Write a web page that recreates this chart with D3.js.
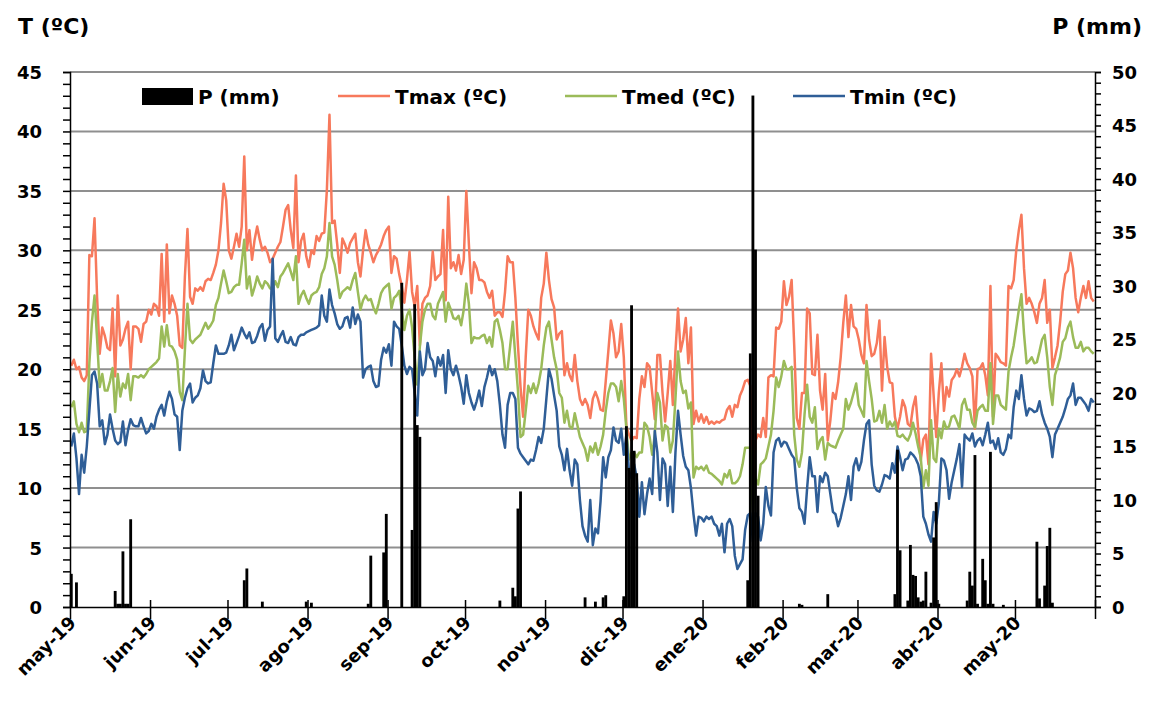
<!DOCTYPE html>
<html><head><meta charset="utf-8">
<script src="https://cdn.jsdelivr.net/npm/d3@7"></script>
<style>
body{margin:0;background:#fff}
text{font-family:"DejaVu Sans",sans-serif;font-weight:bold;fill:#000}
</style></head><body>
<svg id="chart" width="1158" height="707"></svg>
<script>
// Daily series, 1 May 2019 – 31 May 2020
const startDate = new Date(2019, 4, 1);
const endDate = new Date(2020, 5, 1);

const tmax = [
20.3,20.8,20.0,20.2,19.3,19.0,19.5,29.6,29.5,32.7,
26.0,21.3,23.5,22.8,21.8,21.6,25.1,19.4,26.2,22.0,
22.5,23.4,24.0,20.0,23.6,23.6,23.4,22.3,23.8,24.0,
25.0,24.6,25.5,25.3,24.5,29.7,24.0,30.5,24.7,26.2,
25.5,24.5,22.0,21.8,27.8,31.8,26.1,25.5,26.8,26.6,
26.9,26.6,27.4,27.6,27.5,28.1,28.8,30.0,32.3,35.6,
34.2,30.0,29.3,30.3,31.4,30.3,32.0,37.9,30.0,31.7,
29.2,30.9,32.0,30.9,30.0,30.3,29.8,29.0,29.3,29.8,
30.3,30.7,32.0,33.4,33.8,31.7,30.2,36.3,29.0,30.8,
31.4,29.5,28.6,30.0,29.7,31.2,30.8,31.4,31.5,35.1,
41.4,32.3,32.5,30.5,28.1,31.0,30.5,29.8,30.6,31.0,
31.4,29.0,27.8,30.0,31.7,30.5,29.8,29.0,29.6,30.0,
30.5,31.2,31.7,32.0,28.1,29.5,29.3,28.0,27.0,25.6,
27.5,29.9,26.5,25.3,27.0,22.0,25.5,26.0,26.2,27.0,
29.9,27.5,27.8,28.0,31.7,25.8,34.5,28.5,29.0,28.3,
29.6,28.0,29.2,35.0,30.5,26.4,29.0,28.5,27.5,27.5,
27.3,26.5,26.0,26.6,24.5,24.8,24.8,24.4,26.5,29.5,
29.0,29.0,26.0,22.0,18.5,16.0,21.0,25.0,24.5,23.6,
23.0,22.5,26.0,27.2,29.8,27.5,25.9,25.2,22.5,23.0,
23.2,19.5,20.5,19.5,19.0,21.2,19.0,17.5,17.0,17.5,
17.0,15.9,17.5,18.1,17.5,16.6,16.5,19.0,21.5,24.1,
23.0,21.0,21.5,23.8,21.0,15.2,14.5,14.0,14.3,14.2,
17.5,19.4,18.5,20.5,20.2,18.0,15.8,21.2,21.2,18.0,
15.6,18.0,20.7,17.0,21.5,25.1,21.5,22.5,24.3,20.5,
23.5,15.4,16.5,15.6,16.2,15.5,16.0,15.4,15.6,15.4,
15.6,15.5,15.7,15.8,16.6,16.9,16.0,17.0,16.8,17.8,
18.3,19.0,19.1,18.6,9.6,14.0,14.5,14.3,15.9,14.3,
19.3,19.5,19.4,23.5,23.4,24.0,27.4,25.4,26.1,27.5,
22.0,15.9,15.0,18.0,18.0,25.1,24.7,19.6,19.5,22.9,
18.2,16.6,19.6,14.0,15.7,18.0,17.5,18.9,21.0,23.9,
26.2,22.7,25.4,23.6,23.4,22.5,21.2,20.5,25.4,22.5,
21.1,21.3,22.2,24.1,18.2,22.7,20.2,18.9,18.8,16.0,
15.0,16.0,17.4,16.8,15.4,15.2,16.8,17.7,15.0,12.3,
14.1,14.5,12.0,21.3,17.8,14.3,18.0,20.5,16.5,18.5,
17.7,19.1,19.4,20.0,19.4,20.2,21.3,20.5,20.1,19.4,
15.0,20.0,20.1,20.5,19.5,17.8,27.0,16.0,21.3,21.0,
20.6,20.5,20.3,27.0,26.8,27.5,30.0,31.7,33.0,28.5,
25.5,26.0,25.5,24.8,23.9,25.5,26.0,27.5,23.9,25.0,
20.1,21.0,22.0,24.0,26.5,28.0,28.3,29.8,28.5,26.0,
24.8,26.0,27.0,26.0,27.4,26.0,25.7];

const tmed = [
16.8,17.3,15.4,14.7,15.5,14.7,14.8,20.5,24.0,26.2,
22.5,18.5,19.6,18.2,18.2,19.0,20.1,16.4,19.6,17.7,
18.8,18.4,19.6,17.4,19.4,19.4,19.3,19.5,19.3,19.6,
20.0,20.2,20.4,20.6,20.9,23.6,21.9,23.7,22.0,21.9,
21.5,20.8,18.1,17.4,21.6,25.5,22.5,22.2,22.5,22.7,
22.9,23.4,23.9,23.4,23.7,24.1,25.4,26.0,27.2,28.3,
27.4,26.4,26.5,26.9,27.1,27.1,28.9,30.9,26.8,27.8,
26.2,26.9,27.8,27.2,26.8,27.4,27.2,26.8,26.7,27.4,
26.9,27.8,28.1,28.5,28.9,28.2,27.5,29.5,25.5,26.2,
26.6,26.0,25.5,26.2,26.4,26.5,26.9,28.0,28.5,29.5,
32.3,29.5,28.8,27.5,26.0,26.5,26.7,26.9,26.7,27.5,
28.1,26.5,25.0,25.8,26.2,25.8,25.9,25.2,24.7,25.5,
26.4,26.8,27.0,27.2,25.1,26.0,26.2,26.6,25.0,23.3,
24.5,25.0,23.5,21.0,18.7,21.9,24.0,25.0,25.5,25.5,
24.5,24.2,25.5,26.0,26.5,24.0,25.6,25.0,24.3,24.2,
24.5,23.7,25.0,27.2,25.5,22.2,22.7,22.6,22.6,22.8,
22.9,22.2,22.7,21.9,24.0,24.2,23.3,22.2,20.0,20.0,
22.0,24.0,21.0,18.2,14.3,14.5,16.5,18.6,18.0,18.8,
18.0,18.8,20.0,22.0,23.5,24.0,22.5,21.0,20.0,18.0,
17.6,15.5,16.5,15.2,15.0,16.3,15.3,14.3,13.8,13.3,
12.3,13.5,13.0,13.8,12.8,13.5,14.5,16.5,18.0,18.8,
18.8,18.5,17.3,19.0,17.5,15.0,12.4,13.0,13.0,12.6,
13.0,13.0,15.5,15.2,14.3,12.8,14.5,18.0,17.2,14.0,
15.3,15.1,13.0,14.0,17.5,21.5,19.0,18.0,18.2,16.7,
17.2,10.9,11.8,11.6,11.8,11.5,11.9,11.3,11.2,11.0,
10.8,10.6,10.3,11.2,10.9,11.5,10.4,10.4,10.6,11.0,
12.0,13.4,13.4,13.4,8.0,10.8,10.3,12.0,12.2,12.5,
13.5,14.5,16.5,19.3,18.5,19.4,20.7,20.0,20.0,20.2,
14.5,12.4,11.8,13.0,16.2,18.7,16.0,15.5,16.8,13.3,
14.0,14.3,12.4,13.8,13.6,13.5,13.4,14.0,14.5,15.0,
17.5,16.6,17.2,18.0,18.8,17.0,16.5,16.0,20.7,19.0,
17.5,15.6,15.7,16.5,15.5,17.0,15.0,15.6,15.2,15.6,
14.4,14.3,14.5,14.2,14.0,14.5,15.5,14.6,13.5,12.6,
10.0,11.5,10.2,15.7,12.5,12.2,15.0,14.2,15.6,15.0,
15.2,16.0,16.1,15.6,15.0,17.0,17.5,16.6,16.6,15.5,
15.1,16.5,16.8,17.0,16.5,16.5,20.5,15.4,17.8,17.8,
17.0,16.8,16.6,19.8,21.0,22.0,23.5,25.0,26.3,23.0,
20.5,20.7,21.0,20.5,20.6,21.5,22.5,22.9,21.0,18.5,
17.0,19.5,20.2,21.0,22.3,22.6,23.5,24.0,22.7,21.8,
21.8,22.3,21.5,21.8,21.8,21.5,21.3];

const tmin = [
13.5,14.6,12.5,9.5,12.8,11.3,13.5,16.5,19.5,19.8,
18.8,15.2,15.7,13.7,14.5,16.2,15.0,14.0,13.7,13.9,
15.6,13.6,14.9,15.8,15.3,15.2,15.2,15.9,15.2,14.6,
14.8,15.4,15.0,16.0,16.6,17.0,16.1,17.3,18.1,17.5,
16.2,16.0,13.2,16.5,17.6,18.4,18.8,17.2,17.6,17.8,
18.4,19.9,19.0,18.8,18.9,20.5,22.0,21.3,21.3,21.3,
21.4,22.0,22.9,21.6,22.2,22.8,23.5,23.0,22.6,23.1,
22.2,22.3,22.8,23.5,23.8,22.4,23.3,23.6,29.3,22.6,
22.3,22.8,23.2,22.3,22.2,22.7,22.1,22.0,22.7,22.9,
22.9,23.1,23.2,23.3,23.4,23.5,23.7,26.2,24.5,24.0,
26.7,25.4,24.7,23.8,23.4,23.6,24.3,24.4,23.5,25.2,
23.8,24.6,24.0,19.3,20.0,20.2,20.3,19.0,18.5,18.6,
20.8,21.8,21.4,22.1,20.3,24.0,23.6,23.4,22.0,20.3,
19.6,20.2,20.0,18.0,16.1,21.5,19.5,20.0,22.2,21.0,
20.7,19.4,21.0,20.3,21.2,18.0,21.6,20.0,19.5,20.3,
19.5,18.5,17.1,19.5,18.0,17.2,16.6,17.3,18.2,16.9,
18.5,19.3,20.3,19.5,20.0,19.0,17.0,14.5,13.4,17.0,
18.0,18.0,17.5,13.4,12.9,12.6,12.3,12.0,12.4,12.3,
13.2,14.3,13.8,15.0,17.5,20.0,19.2,17.8,16.5,13.5,
12.8,11.5,13.3,11.5,10.2,12.4,12.0,9.0,6.8,6.0,
5.5,9.0,5.2,6.6,6.2,8.9,12.6,10.9,12.6,13.2,
15.1,14.0,13.8,15.0,12.8,14.5,11.5,10.8,12.0,10.9,
7.6,10.5,7.8,9.5,10.8,9.5,14.8,13.0,9.0,12.5,
12.0,8.5,11.8,8.0,13.0,16.5,14.5,12.7,11.8,11.5,
10.0,7.8,6.0,7.6,7.5,7.2,7.6,7.4,7.6,7.0,
6.8,6.0,7.0,4.6,7.0,7.4,6.8,4.3,3.2,3.6,
4.0,6.5,7.7,7.9,5.5,7.9,7.6,5.6,7.0,10.1,
8.5,7.7,13.0,14.0,14.2,13.5,13.9,13.8,13.3,12.8,
12.5,10.0,8.3,8.0,7.0,10.0,12.6,11.0,11.0,8.0,
11.0,10.5,11.3,11.0,9.5,8.0,7.8,6.8,7.5,8.5,
9.5,11.0,9.0,11.8,12.5,11.5,12.2,14.0,15.4,15.7,
12.0,10.2,9.8,9.7,10.3,11.1,11.0,10.8,12.1,11.3,
13.5,12.6,11.5,12.4,12.5,13.0,12.8,12.5,12.0,11.0,
7.6,7.0,6.1,5.5,8.0,7.0,8.7,12.5,12.3,11.5,
9.1,10.5,11.5,12.5,13.7,10.1,14.5,14.2,14.0,14.6,
13.5,14.0,14.2,13.6,14.5,15.5,13.8,14.0,13.3,14.2,
13.0,12.8,13.3,14.5,14.2,16.8,18.2,17.5,19.5,17.5,
16.1,16.7,16.6,16.4,16.5,17.3,16.2,15.5,15.0,14.3,
12.6,14.5,15.0,15.5,16.0,16.7,17.5,17.8,18.8,17.0,
17.6,17.6,17.3,17.0,16.5,17.5,17.2];

// Rainy days (day index from 1 May 2019) and rainfall in mm
const rainDay = [0,2,17,18,19,20,21,22,23,67,68,74,91,93,115,116,121,122,128,132,133,134,135,
  166,171,172,173,174,199,203,206,207,214,215,216,217,218,219,262,263,264,265,266,282,283,293,
  319,320,321,324,325,326,327,328,329,330,331,333,334,335,336,347,348,349,350,351,353,354,355,356,357,
  361,374,375,377,378,379,380];
const rainMm = [3.1,2.3,1.5,0.3,0.3,5.2,0.3,0.3,8.2,2.5,3.6,0.5,0.5,0.4,0.3,4.8,5.1,8.7,30.3,7.2,28.3,17.0,15.9,
  0.6,1.8,1.0,9.2,10.8,0.9,0.5,0.9,1.1,1.0,16.9,13.0,28.2,14.6,12.5,2.5,23.7,47.8,33.4,10.4,0.3,0.2,1.2,
  1.2,14.7,5.3,0.6,5.8,3.0,2.9,0.9,0.5,0.6,3.3,0.4,6.5,9.8,0.3,0.6,3.3,2.0,14.2,0.3,4.5,2.5,0.3,14.5,0.3,
  0.2,6.1,0.8,2.0,5.7,7.4,0.4];

const tempTicks = d3.range(0, 46, 5);
const rainTicks = d3.range(0, 51, 5);
const monthNames = ["ene","feb","mar","abr","may","jun","jul","ago","sep","oct","nov","dic"];

const seriesInfo = [
  {name: "Tmax (ºC)", values: tmax, color: "#F7795C"},
  {name: "Tmed (ºC)", values: tmed, color: "#9BBB59"},
  {name: "Tmin (ºC)", values: tmin, color: "#2F5E97"}
];

const plot = {left: 70, right: 1095, top: 72, bottom: 607};
const svg = d3.select("#chart");

const x = d3.scaleTime().domain([startDate, endDate]).range([plot.left, plot.right]);
const yT = d3.scaleLinear().domain([0, 45]).range([plot.bottom, plot.top]);
const yP = d3.scaleLinear().domain([0, 50]).range([plot.bottom, plot.top]);
const dayAt = i => d3.timeDay.offset(startDate, i);
const dayMid = i => x(d3.timeHour.offset(dayAt(i), 12));
const slot = x(dayAt(1)) - x(dayAt(0));

// horizontal gridlines
svg.append("g").selectAll("line").data(tempTicks.filter(t => t > 0)).join("line")
  .attr("x1", plot.left).attr("x2", plot.right)
  .attr("y1", d => yT(d)).attr("y2", d => yT(d))
  .attr("stroke", "#8f8f8f").attr("stroke-width", 2);

// temperature lines
const line = d3.line().x((d, i) => dayMid(i)).y(d => yT(d));
svg.append("g").selectAll("path").data(seriesInfo).join("path")
  .attr("d", s => line(s.values))
  .attr("fill", "none").attr("stroke", s => s.color)
  .attr("stroke-width", 2.5).attr("stroke-linejoin", "round");

// rainfall bars
const rain = rainDay.map((d, i) => ({d, v: rainMm[i]}));
svg.append("g").selectAll("rect").data(rain).join("rect")
  .attr("x", r => dayMid(r.d) - slot * 0.55)
  .attr("width", slot * 1.1)
  .attr("y", r => yP(r.v))
  .attr("height", r => yP(0) - yP(r.v))
  .attr("fill", "#000");

// left axis: minor ticks every 1 ºC, labels every 5
svg.append("g").attr("transform", `translate(${plot.left},0)`)
  .call(d3.axisLeft(yT).tickValues(d3.range(0, 46, 1)).tickSize(7).tickFormat(""))
  .call(g => g.selectAll("path,line").attr("stroke", "#000").attr("stroke-width", 1.5));
svg.append("g").attr("transform", `translate(${plot.left},0)`)
  .call(d3.axisLeft(yT).tickValues(tempTicks).tickSize(0).tickPadding(28))
  .call(g => g.select(".domain").remove())
  .call(g => g.selectAll("text").attr("font-size", 18).attr("font-family", null).attr("dy", "0.36em"));

// right axis: minor ticks every 1 mm, labels every 5
svg.append("g").attr("transform", `translate(${plot.right},0)`)
  .call(d3.axisRight(yP).tickValues(d3.range(0, 51, 1)).tickSize(6).tickFormat(""))
  .call(g => g.selectAll("path,line").attr("stroke", "#000").attr("stroke-width", 1.5));
svg.append("g").attr("transform", `translate(${plot.right},0)`)
  .call(d3.axisRight(yP).tickValues(rainTicks).tickSize(0).tickPadding(17))
  .call(g => g.select(".domain").remove())
  .call(g => g.selectAll("text").attr("font-size", 18).attr("font-family", null).attr("dy", "0.36em"));

// bottom axis: month ticks crossing the baseline
const monthTicks = d3.timeMonth.range(startDate, d3.timeDay.offset(endDate, 1));
const fmtMonth = d => monthNames[d.getMonth()] + "-" + String(d.getFullYear()).slice(2);
svg.append("g").attr("transform", `translate(0,${plot.bottom})`)
  .call(d3.axisBottom(x).tickValues(monthTicks).tickSize(0).tickFormat(""))
  .call(g => g.selectAll("path").attr("stroke", "#000").attr("stroke-width", 1.5))
  .call(g => g.selectAll(".tick").append("line").attr("y1", -7).attr("y2", 12)
     .attr("stroke", "#000").attr("stroke-width", 1.5));
svg.append("g").selectAll("text").data(monthTicks.filter(d => d < endDate)).join("text")
  .attr("transform", d => `translate(${x(d) + 7},${plot.bottom + 17}) rotate(-45)`)
  .attr("text-anchor", "end").attr("font-size", 18)
  .text(fmtMonth);

// axis titles
svg.append("text").attr("x", 18).attr("y", 34).attr("font-size", 22).text("T (ºC)");
svg.append("text").attr("x", 1142).attr("y", 34).attr("font-size", 22)
  .attr("text-anchor", "end").text("P (mm)");

// legend
const lg = svg.append("g");
lg.append("rect").attr("x", 142).attr("y", 88).attr("width", 51).attr("height", 17).attr("fill", "#000");
lg.append("text").attr("x", 198).attr("y", 104).attr("font-size", 20).text("P (mm)");
const legendX = [338, 565, 793];
seriesInfo.forEach((s, i) => {
  lg.append("line").attr("x1", legendX[i]).attr("x2", legendX[i] + 52)
    .attr("y1", 96).attr("y2", 96).attr("stroke", s.color).attr("stroke-width", 2.5);
  lg.append("text").attr("x", legendX[i] + 57).attr("y", 104).attr("font-size", 20).text(s.name);
});
</script>
</body></html>
